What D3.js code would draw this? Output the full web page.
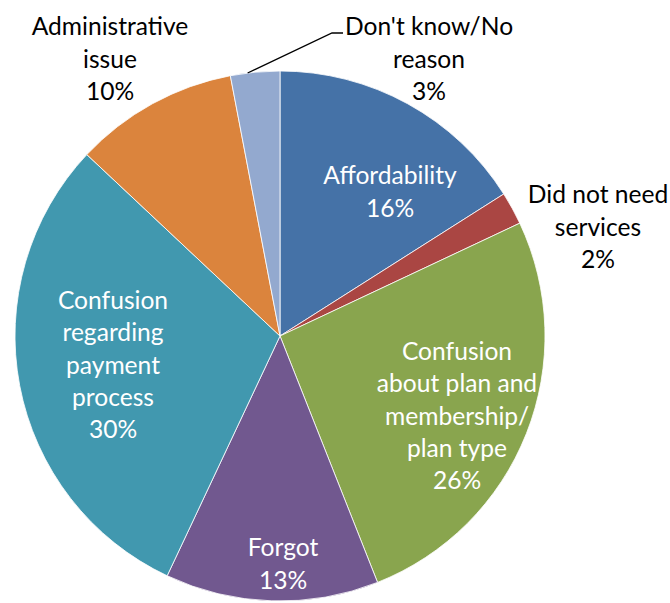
<!DOCTYPE html>
<html>
<head>
<meta charset="utf-8">
<script src="https://cdn.jsdelivr.net/npm/d3@7"></script>
<style>
  html, body { margin: 0; padding: 0; background: #fff; }
  svg { display: block; }
  text { font-family: Lato, "Open Sans", sans-serif; font-size: 24.6px; }
</style>
</head>
<body>
<svg id="chart" width="670" height="603"></svg>
<script>
// Reasons, in clockwise order from 12 o'clock
const categories = [
  "Affordability",
  "Did not need services",
  "Confusion about plan and membership/ plan type",
  "Forgot",
  "Confusion regarding payment process",
  "Administrative issue",
  "Don't know/No reason"
];
const shares = [16, 2, 26, 13, 30, 10, 3];
const colors = ["#4572A7", "#AA4643", "#89A54E", "#71588F", "#4198AF", "#DB843D", "#93A9CF"];

// Label text broken into lines, plus where each label block is centred
const labelLines = [
  ["Affordability"],
  ["Did not need", "services"],
  ["Confusion", "about plan and", "membership/", "plan type"],
  ["Forgot"],
  ["Confusion", "regarding", "payment", "process"],
  ["Administrative", "issue"],
  ["Don't know/No", "reason"]
];
const labelCenters = [
  [390, 192], [598, 227], [457, 416], [283, 564], [113, 365], [110, 59], [429, 59]
];
const labelInside = [true, false, true, true, true, false, false];

const svg = d3.select("#chart");
const cx = 280, cy = 336, radius = 265;

const data = categories.map((c, i) => ({ name: c, value: shares[i], i }));

const pie = d3.pie().value(d => d.value).sort(null);
const arc = d3.arc().innerRadius(0).outerRadius(radius);
const arcs = pie(data);

const g = svg.append("g").attr("transform", `translate(${cx},${cy})`);

g.selectAll("path.slice")
  .data(arcs)
  .join("path")
  .attr("class", "slice")
  .attr("d", arc)
  .attr("fill", d => colors[d.data.i])
  .attr("stroke", "#ffffff")
  .attr("stroke-width", 0.8);

// Leader line for the small "Don't know" slice
const dk = arcs[6];
const dkAngle = dk.startAngle + (dk.endAngle - dk.startAngle) * 0.35;
const edge = [cx + Math.sin(dkAngle) * radius, cy - Math.cos(dkAngle) * radius];
svg.append("polyline")
  .attr("points", [[edge[0], edge[1]], [332, 33], [343, 33]].map(p => p.join(",")).join(" "))
  .attr("fill", "none")
  .attr("stroke", "#000")
  .attr("stroke-width", 1.3);

// Data labels: category lines followed by percentage
const lineH = 32.3;
arcs.forEach((a, k) => {
  const lines = labelLines[k].concat([d3.format(".0f")(a.data.value) + "%"]);
  const [lx, ly] = labelCenters[k];
  const top = ly - (lines.length - 1) * lineH / 2;
  const t = svg.append("text")
    .attr("text-anchor", "middle")
    .attr("fill", labelInside[k] ? "#ffffff" : "#000000");
  lines.forEach((s, j) => {
    t.append("tspan")
      .attr("x", lx)
      .attr("y", top + j * lineH)
      .attr("dy", "0.35em")
      .text(s);
  });
});
</script>
</body>
</html>
